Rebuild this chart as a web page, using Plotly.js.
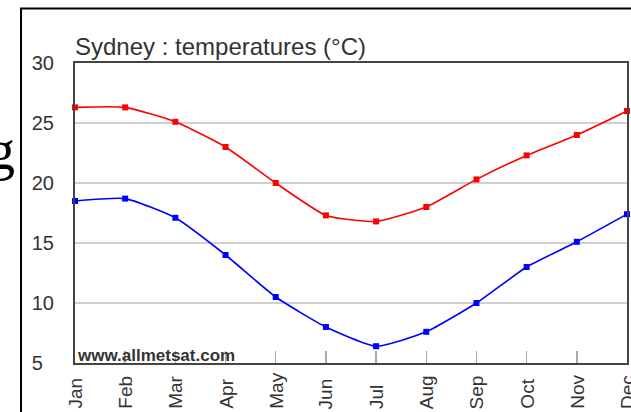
<!DOCTYPE html>
<html>
<head>
<meta charset="utf-8">
<script src="https://cdn.plot.ly/plotly-3.0.1.min.js"></script>
<style>html,body{margin:0;padding:0;background:#fff;}#chart{width:631px;height:412px;}</style>
</head>
<body>
<div id="chart"></div>
<script>
const months = ["Jan","Feb","Mar","Apr","May","Jun","Jul","Aug","Sep","Oct","Nov","Dec"];
const maxTemp = [26.3, 26.3, 25.1, 23.0, 20.0, 17.3, 16.8, 18.0, 20.3, 22.3, 24.0, 26.0];
const minTemp = [18.5, 18.7, 17.1, 14.0, 10.5, 8.0, 6.4, 7.6, 10.0, 13.0, 15.1, 17.4];
const yTickVals = [5, 10, 15, 20, 25, 30];
const yTickText = ["5\u2007", "10", "15", "20", "25", "30"];
const titleText = "Sydney : temperatures (°C)";
const watermark = "www.allmetsat.com";

const traces = [
  {x: months, y: maxTemp, type: 'scatter', mode: 'lines+markers',
   line: {color: '#ff0000', width: 1.6, shape: 'spline', smoothing: 0.5},
   marker: {color: '#ff0000', size: 6, symbol: 'square'}, cliponaxis: false, hoverinfo: 'none'},
  {x: months, y: minTemp, type: 'scatter', mode: 'lines+markers',
   line: {color: '#0000ff', width: 1.6, shape: 'spline', smoothing: 0.5},
   marker: {color: '#0000ff', size: 6, symbol: 'square'}, cliponaxis: false, hoverinfo: 'none'}
];

const annotations = months.map(m => ({
  x: m, xref: 'x', y: -0.16, yref: 'paper', text: m, showarrow: false,
  textangle: -90, xanchor: 'center', yanchor: 'bottom',
  font: {family: 'Liberation Sans, Arial, sans-serif', size: 19, color: '#333'}
}));
annotations.push({
  x: 0, xref: 'paper', y: 0, yref: 'paper', text: watermark, showarrow: false,
  xanchor: 'left', yanchor: 'bottom', yshift: -4,
  font: {family: 'Liberation Sans, Arial, sans-serif', size: 17, color: '#333', weight: 'bold'}
});
annotations.push({
  x: -0.105, xref: 'paper', y: 0.71, yref: 'paper', text: 'g', showarrow: false,
  xanchor: 'right', yanchor: 'middle',
  font: {family: 'Liberation Serif, Times New Roman, serif', size: 56, color: '#000'}
});

const layout = {
  width: 631, height: 412,
  margin: {l: 75, r: 4, t: 63, b: 49, pad: 0},
  paper_bgcolor: '#fff', plot_bgcolor: '#fff',
  showlegend: false,
  font: {family: 'Liberation Sans, Arial, sans-serif', color: '#333'},
  title: {text: titleText, x: 0, xref: 'paper', xanchor: 'left', y: 1 - 47/412, yref: 'container', yanchor: 'middle',
          font: {size: 24, color: '#333', family: 'Liberation Sans, Arial, sans-serif'}},
  xaxis: {type: 'category', range: [0, 11], showgrid: false, zeroline: false,
          showline: true, mirror: true, linecolor: '#444', linewidth: 2,
          ticks: 'inside', ticklen: 12, tickcolor: '#aaa', tickwidth: 1.5,
          showticklabels: false, fixedrange: true},
  yaxis: {range: [5, 30], tickvals: yTickVals, ticktext: yTickText,
          showgrid: true, gridcolor: '#d0d0d0', gridwidth: 2, zeroline: false,
          showline: true, mirror: true, linecolor: '#444', linewidth: 2,
          ticks: '', ticklabelstandoff: 15,
          tickfont: {size: 20, color: '#333'}, fixedrange: true},
  shapes: [{type: 'rect', xref: 'paper', yref: 'paper', x0: -0.0978, x1: 1.5, y0: -0.6, y1: 1.1817,
            line: {color: '#000', width: 2}, fillcolor: 'rgba(0,0,0,0)', layer: 'above'}],
  annotations: annotations
};

Plotly.newPlot('chart', traces, layout, {staticPlot: true, displayModeBar: false});
</script>
</body>
</html>
